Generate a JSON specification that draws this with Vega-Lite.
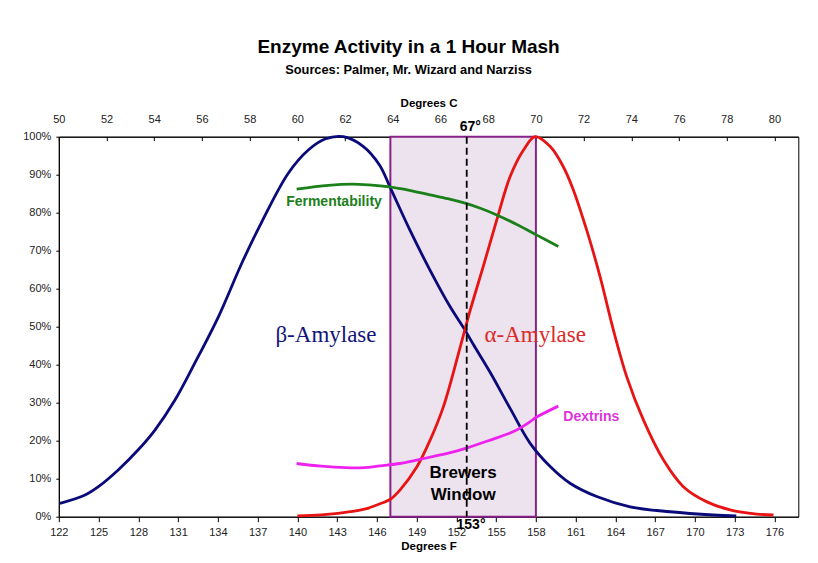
{
  "$schema": "https://vega.github.io/schema/vega-lite/v6.json",
  "width": 739.5,
  "height": 380,
  "autosize": {"type": "none"},
  "padding": {"left": 58.8, "top": 136.7, "right": 19.7, "bottom": 46.3},
  "background": "#ffffff",
  "title": {
    "text": "Enzyme Activity in a 1 Hour Mash",
    "subtitle": "Sources: Palmer, Mr. Wizard and Narziss",
    "anchor": "middle",
    "dx": -20,
    "font": "Liberation Sans",
    "fontSize": 19,
    "fontWeight": "bold",
    "color": "#000000",
    "subtitleFont": "Liberation Sans",
    "subtitleFontSize": 12.8,
    "subtitleFontWeight": "bold",
    "subtitleColor": "#000000",
    "subtitlePadding": 7,
    "offset": 20
  },
  "config": {
    "view": {"stroke": "#000000", "strokeWidth": 1},
    "axis": {
      "grid": false,
      "domainColor": "#000000",
      "tickColor": "#000000",
      "labelColor": "#222222",
      "labelFont": "Liberation Sans",
      "labelFontSize": 11,
      "titleFont": "Liberation Sans",
      "titleFontSize": 11.5,
      "titleFontWeight": "bold",
      "titleColor": "#000000",
      "labelOverlap": false,
      "labelFlush": false
    }
  },
  "datasets": {
    "curves": [
      {"s": "beta", "c": 50.05, "p": 3.5}, {"s": "beta", "c": 51.1, "p": 5.7}, {"s": "beta", "c": 51.66, "p": 7.9},
      {"s": "beta", "c": 52.49, "p": 12.3}, {"s": "beta", "c": 53.33, "p": 17.6}, {"s": "beta", "c": 54.03, "p": 22.8},
      {"s": "beta", "c": 54.87, "p": 30.7}, {"s": "beta", "c": 55.7, "p": 40.4}, {"s": "beta", "c": 56.69, "p": 52.6},
      {"s": "beta", "c": 57.67, "p": 66.7}, {"s": "beta", "c": 58.51, "p": 77.6}, {"s": "beta", "c": 59.62, "p": 90.4},
      {"s": "beta", "c": 60.46, "p": 96.5}, {"s": "beta", "c": 61.16, "p": 99.4}, {"s": "beta", "c": 61.93, "p": 100},
      {"s": "beta", "c": 62.77, "p": 97.4}, {"s": "beta", "c": 63.45, "p": 92.5}, {"s": "beta", "c": 63.88, "p": 86.8},
      {"s": "beta", "c": 64.72, "p": 75.4}, {"s": "beta", "c": 65.56, "p": 64.9}, {"s": "beta", "c": 66.4, "p": 55.3},
      {"s": "beta", "c": 67.03, "p": 49.1}, {"s": "beta", "c": 67.38, "p": 45.3}, {"s": "beta", "c": 68.08, "p": 38.0},
      {"s": "beta", "c": 68.92, "p": 28.5}, {"s": "beta", "c": 69.76, "p": 19.3}, {"s": "beta", "c": 70.6, "p": 13.2},
      {"s": "beta", "c": 71.43, "p": 8.8}, {"s": "beta", "c": 72.55, "p": 5.3}, {"s": "beta", "c": 73.95, "p": 2.6},
      {"s": "beta", "c": 75.63, "p": 1.3}, {"s": "beta", "c": 77.44, "p": 0.45}, {"s": "beta", "c": 78.4, "p": 0.2},

      {"s": "alpha", "c": 60.0, "p": 0.2}, {"s": "alpha", "c": 61.0, "p": 0.5}, {"s": "alpha", "c": 61.7, "p": 0.9},
      {"s": "alpha", "c": 62.5, "p": 1.6}, {"s": "alpha", "c": 62.95, "p": 2.2}, {"s": "alpha", "c": 63.47, "p": 3.4},
      {"s": "alpha", "c": 63.9, "p": 4.6}, {"s": "alpha", "c": 64.3, "p": 7.0}, {"s": "alpha", "c": 65.0, "p": 13.0},
      {"s": "alpha", "c": 65.57, "p": 20.2}, {"s": "alpha", "c": 66.12, "p": 28.9}, {"s": "alpha", "c": 66.83, "p": 44.7},
      {"s": "alpha", "c": 67.25, "p": 54.4}, {"s": "alpha", "c": 67.8, "p": 66.0}, {"s": "alpha", "c": 68.36, "p": 78.1},
      {"s": "alpha", "c": 68.92, "p": 89.5}, {"s": "alpha", "c": 69.48, "p": 96.5}, {"s": "alpha", "c": 69.97, "p": 100},
      {"s": "alpha", "c": 70.6, "p": 97.4}, {"s": "alpha", "c": 71.15, "p": 92.1}, {"s": "alpha", "c": 71.57, "p": 86.0},
      {"s": "alpha", "c": 72.13, "p": 75.4}, {"s": "alpha", "c": 72.69, "p": 63.2}, {"s": "alpha", "c": 73.25, "p": 49.1},
      {"s": "alpha", "c": 73.81, "p": 36.8}, {"s": "alpha", "c": 74.51, "p": 25.4}, {"s": "alpha", "c": 75.35, "p": 14.9},
      {"s": "alpha", "c": 76.18, "p": 7.9}, {"s": "alpha", "c": 77.17, "p": 3.9}, {"s": "alpha", "c": 78.14, "p": 1.8},
      {"s": "alpha", "c": 79.26, "p": 0.7}, {"s": "alpha", "c": 79.96, "p": 0.45},

      {"s": "ferm", "c": 59.97, "p": 86.2}, {"s": "ferm", "c": 61.3, "p": 87.2}, {"s": "ferm", "c": 62.3, "p": 87.5},
      {"s": "ferm", "c": 63.0, "p": 87.3}, {"s": "ferm", "c": 63.85, "p": 86.8}, {"s": "ferm", "c": 64.7, "p": 85.9},
      {"s": "ferm", "c": 65.56, "p": 84.7}, {"s": "ferm", "c": 66.3, "p": 83.7}, {"s": "ferm", "c": 67.03, "p": 82.5},
      {"s": "ferm", "c": 67.7, "p": 81.1}, {"s": "ferm", "c": 68.36, "p": 79.4}, {"s": "ferm", "c": 69.2, "p": 76.9},
      {"s": "ferm", "c": 70.04, "p": 74.1}, {"s": "ferm", "c": 70.94, "p": 71.1},

      {"s": "dex", "c": 59.97, "p": 14.0}, {"s": "dex", "c": 61.0, "p": 13.3}, {"s": "dex", "c": 62.0, "p": 12.9},
      {"s": "dex", "c": 62.8, "p": 12.9}, {"s": "dex", "c": 63.47, "p": 13.4}, {"s": "dex", "c": 64.3, "p": 14.0},
      {"s": "dex", "c": 65.0, "p": 14.9}, {"s": "dex", "c": 65.8, "p": 16.0}, {"s": "dex", "c": 66.5, "p": 17.0},
      {"s": "dex", "c": 67.05, "p": 18.0}, {"s": "dex", "c": 68.0, "p": 20.0}, {"s": "dex", "c": 69.06, "p": 22.4},
      {"s": "dex", "c": 69.76, "p": 25.0}, {"s": "dex", "c": 70.0, "p": 26.1}, {"s": "dex", "c": 70.94, "p": 29.1}
    ]
  },
  "resolve": {"axis": {"x": "independent", "y": "independent"}},
  "layer": [
    {
      "data": {"values": [{"c0": 63.9, "c1": 70.0, "p0": 0, "p1": 100}]},
      "mark": {"type": "rect", "fill": "#ECE3EE", "stroke": "#882288", "strokeWidth": 2},
      "encoding": {
        "x": {
          "field": "c0", "type": "quantitative",
          "scale": {"domain": [50, 81], "nice": false, "zero": false},
          "axis": {
            "orient": "bottom",
            "title": "Degrees F",
            "values": [50, 51.6667, 53.3333, 55, 56.6667, 58.3333, 60, 61.6667, 63.3333, 65, 66.6667, 68.3333, 70, 71.6667, 73.3333, 75, 76.6667, 78.3333, 80],
            "labelExpr": "format(datum.value * 1.8 + 32, '.0f')",
            "tickSize": 5,
            "labelPadding": 5,
            "titlePadding": 3
          }
        },
        "x2": {"field": "c1"},
        "y": {
          "field": "p0", "type": "quantitative",
          "scale": {"domain": [0, 100], "nice": false},
          "axis": {
            "orient": "left",
            "title": null,
            "values": [0, 10, 20, 30, 40, 50, 60, 70, 80, 90, 100],
            "labelExpr": "datum.value + '%'",
            "tickSize": 3,
            "labelPadding": 5
          }
        },
        "y2": {"field": "p1"}
      }
    },
    {
      "data": {"name": "curves"},
      "mark": {"type": "line", "strokeWidth": 2.8, "interpolate": "catmull-rom"},
      "encoding": {
        "x": {
          "field": "c", "type": "quantitative",
          "axis": {
            "orient": "top",
            "title": "Degrees C",
            "values": [50, 52, 54, 56, 58, 60, 62, 64, 66, 68, 70, 72, 74, 76, 78, 80],
            "tickSize": -4,
            "labelPadding": 16.5,
            "titlePadding": 5
          }
        },
        "y": {"field": "p", "type": "quantitative", "axis": null},
        "color": {
          "field": "s", "type": "nominal",
          "scale": {"domain": ["beta", "alpha", "ferm", "dex"], "range": ["#0A0A7A", "#E81414", "#1A801A", "#EE22EE"]},
          "legend": null
        },
        "detail": {"field": "s"}
      }
    },
    {
      "data": {"values": [{"c": 67.1}]},
      "mark": {"type": "rule", "color": "#000000", "strokeWidth": 1.8, "strokeDash": [7, 4]},
      "encoding": {
        "x": {"field": "c", "type": "quantitative", "axis": null}
      }
    },
    {
      "data": {"values": [{"c": 61.2, "p": 47.8, "t": "β-Amylase"}]},
      "mark": {"type": "text", "font": "Liberation Serif", "fontSize": 23, "color": "#14147A", "align": "center", "baseline": "middle"},
      "encoding": {
        "x": {"field": "c", "type": "quantitative", "axis": null},
        "y": {"field": "p", "type": "quantitative", "axis": null},
        "text": {"field": "t"}
      }
    },
    {
      "data": {"values": [{"c": 69.97, "p": 47.8, "t": "α-Amylase"}]},
      "mark": {"type": "text", "font": "Liberation Serif", "fontSize": 23, "color": "#DD2A2A", "align": "center", "baseline": "middle"},
      "encoding": {
        "x": {"field": "c", "type": "quantitative", "axis": null},
        "y": {"field": "p", "type": "quantitative", "axis": null},
        "text": {"field": "t"}
      }
    },
    {
      "data": {"values": [{"c": 59.53, "p": 82.7, "t": "Fermentability"}]},
      "mark": {"type": "text", "font": "Liberation Sans", "fontWeight": "bold", "fontSize": 14, "color": "#1A801A", "align": "left", "baseline": "middle"},
      "encoding": {
        "x": {"field": "c", "type": "quantitative", "axis": null},
        "y": {"field": "p", "type": "quantitative", "axis": null},
        "text": {"field": "t"}
      }
    },
    {
      "data": {"values": [{"c": 71.15, "p": 26.3, "t": "Dextrins"}]},
      "mark": {"type": "text", "font": "Liberation Sans", "fontWeight": "bold", "fontSize": 14, "color": "#DD33DD", "align": "left", "baseline": "middle"},
      "encoding": {
        "x": {"field": "c", "type": "quantitative", "axis": null},
        "y": {"field": "p", "type": "quantitative", "axis": null},
        "text": {"field": "t"}
      }
    },
    {
      "data": {"values": [{"c": 66.95, "p": 11.5, "t": "Brewers"}, {"c": 66.95, "p": 5.7, "t": "Window"}]},
      "mark": {"type": "text", "font": "Liberation Sans", "fontWeight": "bold", "fontSize": 17, "color": "#000000", "align": "center", "baseline": "middle"},
      "encoding": {
        "x": {"field": "c", "type": "quantitative", "axis": null},
        "y": {"field": "p", "type": "quantitative", "axis": null},
        "text": {"field": "t"}
      }
    },
    {
      "data": {"values": [{"c": 67.25, "p": 102.6, "t": "67°"}, {"c": 67.28, "p": -2.2, "t": "153°"}]},
      "mark": {"type": "text", "font": "Liberation Sans", "fontWeight": "bold", "fontSize": 14, "color": "#000000", "align": "center", "baseline": "middle"},
      "encoding": {
        "x": {"field": "c", "type": "quantitative", "axis": null},
        "y": {"field": "p", "type": "quantitative", "axis": null},
        "text": {"field": "t"}
      }
    }
  ]
}
